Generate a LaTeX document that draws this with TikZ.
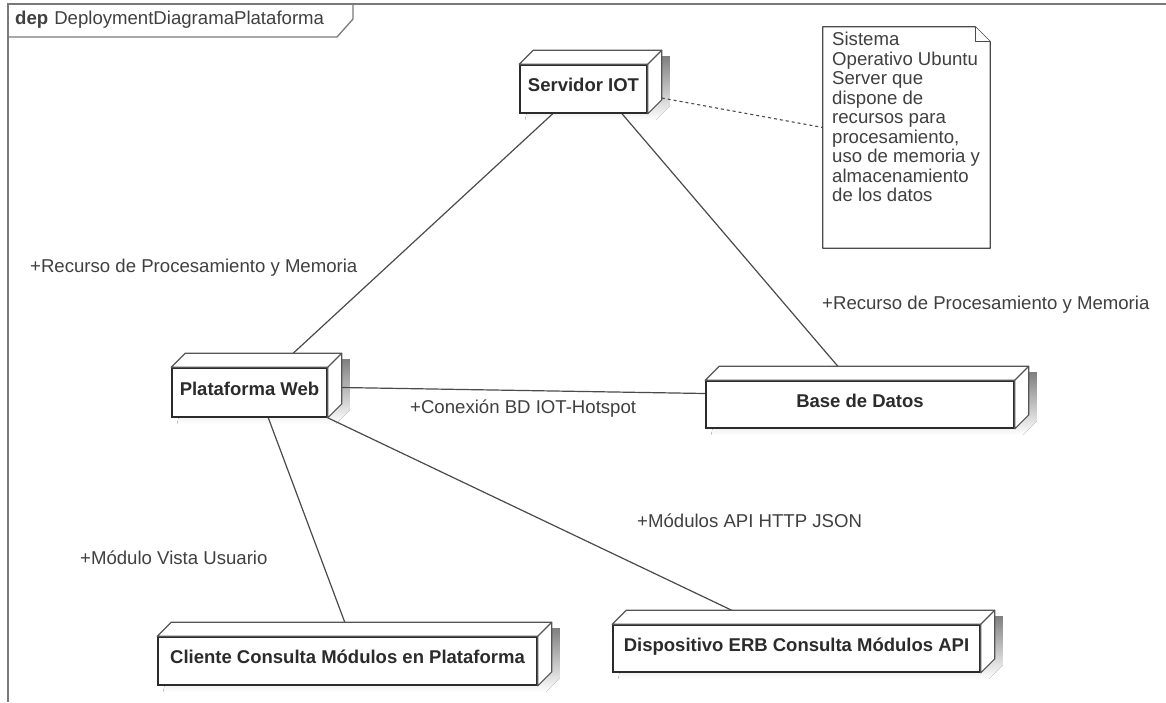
\documentclass[tikz,border=0pt]{standalone}
\usepackage{fontspec}
\setmainfont{Liberation Sans}
\usetikzlibrary{calc}
\pgfdeclarelayer{bg}
\pgfsetlayers{bg,main}
\definecolor{ink}{HTML}{2B2B2B}
\definecolor{wire}{HTML}{4A4A4A}
\definecolor{frameline}{HTML}{7A7A7A}
\definecolor{shade}{HTML}{F1F1F1}
\tikzset{
  txt/.style={font=\fontsize{18.6}{19.5}\selectfont, text=ink!90, inner sep=0pt},
  nodebox/.style={draw=ink, line width=1.6pt, fill=white, rectangle, inner sep=0pt,
    font=\fontsize{18.5}{19.5}\selectfont\bfseries, text=ink,
    text height=14pt, text depth=9pt},
  boxside/.style={draw=ink!80, line width=1.2pt, fill=white, line join=round},
  wireline/.style={draw=wire, line width=1.2pt},
  noteline/.style={draw=wire, line width=1.1pt, dash pattern=on 3pt off 3pt},
  notebox/.style={draw=ink!85, line width=1.3pt, fill=white, line join=round},
}
% soft shadow under a deployment node
\newcommand{\shadowbox}[1]{%
  \fill[shade] ($(#1.north west)+(20,-8)$) -- ($(#1.north east)+(22,-8)$)
    -- ($(#1.south east)+(22,-8)$) -- ($(#1.south east)+(8,6)$)
    -- ($(#1.south west)+(6,6)$) -- cycle;}
% top and right faces of a deployment node
\newcommand{\depthfaces}[1]{%
  \draw[boxside] (#1.north west) -- ++(14,-14) -- ($(#1.north east)+(14,-14)$)
    -- ($(#1.south east)+(14,-14)$) -- (#1.south east) -- (#1.north east) -- cycle;
  \draw[boxside] (#1.north east) -- ++(14,-14);}
\begin{document}
\begin{tikzpicture}[x=1pt,y=-1pt]
\useasboundingbox (0,0) rectangle (1166,702);
\begin{pgfonlayer}{bg}
\fill[white] (0,0) rectangle (1166,702);
\end{pgfonlayer}

% diagram frame and its name tab
\draw[frameline, line width=1.6pt] (1166,4) -- (8,4) -- (8,702);
\draw[frameline, line width=1.3pt] (8,37) -- (337,37) -- (353,19) -- (353,4);
\node[txt, anchor=west] (framename) at (15,20)
  {\textbf{dep}\hspace{6pt}DeploymentDiagramaPlataforma};

% deployment nodes (front faces)
\path
  node[nodebox, minimum width=127pt, minimum height=48pt] (srv) at (583.5,89) {Servidor IOT}
  node[nodebox, minimum width=155pt, minimum height=49pt] (web) at (249.5,392.5) {Plataforma Web}
  node[nodebox, minimum width=308pt, minimum height=47pt] (bd) at (860,404.5) {Base de Datos}
  node[nodebox, minimum width=379pt, minimum height=48pt] (cli) at (347.5,661) {Cliente Consulta Módulos en Plataforma}
  node[nodebox, minimum width=367pt, minimum height=47pt] (dev) at (796.5,648.5) {Dispositivo ERB Consulta Módulos API};
\foreach \n in {srv,web,bd,cli,dev} {\depthfaces{\n}}

% shadows and connectors beneath the nodes
\begin{pgfonlayer}{bg}
\foreach \n in {srv,web,bd,cli,dev} {\shadowbox{\n}}
\draw[wireline] ($(srv.south west)!0.26!(srv.south east)$) -- ($(web.north west)!0.69!(web.north east)+(14,-14)$);
\draw[wireline] ($(srv.south west)!0.80!(srv.south east)$) -- ($(bd.north west)!0.383!(bd.north east)+(14,-14)$);
\draw[wireline] ($(web.east)+(14,-5)$) -- ($(bd.west)+(0,-11)$);
\draw[wireline] ($(web.south west)!0.62!(web.south east)$) -- ($(cli.north west)!0.456!(cli.north east)+(14,-14)$);
\draw[wireline] (web.south east) -- ($(dev.north west)!0.286!(dev.north east)+(14,-14)$);
\end{pgfonlayer}

% comment note attached to the IoT server
\node[rectangle, minimum width=167pt, minimum height=221pt, inner sep=0pt] (note) at (906.5,137.5) {};
\draw[notebox] (note.north west) -- ($(note.north east)+(-15,0)$) -- ($(note.north east)+(0,15)$)
  -- (note.south east) -- (note.south west) -- cycle;
\draw[notebox] ($(note.north east)+(-15,0)$) -- ($(note.north east)+(-15,15)$) -- ($(note.north east)+(0,15)$);
\node[txt, anchor=north west, align=left] (notetext) at (832,32)
  {Sistema\\Operativo Ubuntu\\Server que\\dispone de\\recursos para\\procesamiento,\\uso de memoria y\\almacenamiento\\de los datos};
\draw[noteline] ($(srv.east)+(14,9)$) -- ($(note.west)+(0,-10)$);

% connector labels
\node[txt, anchor=west] (lblA) at (30,268) {+Recurso de Procesamiento y Memoria};
\node[txt, anchor=west] (lblB) at (822,305) {+Recurso de Procesamiento y Memoria};
\node[txt, anchor=west] (lblC) at (410,409) {+Conexión BD IOT-Hotspot};
\node[txt, anchor=west] (lblD) at (637,521) {+Módulos API HTTP JSON};
\node[txt, anchor=west] (lblE) at (80,558) {+Módulo Vista Usuario};
\end{tikzpicture}
\end{document}
